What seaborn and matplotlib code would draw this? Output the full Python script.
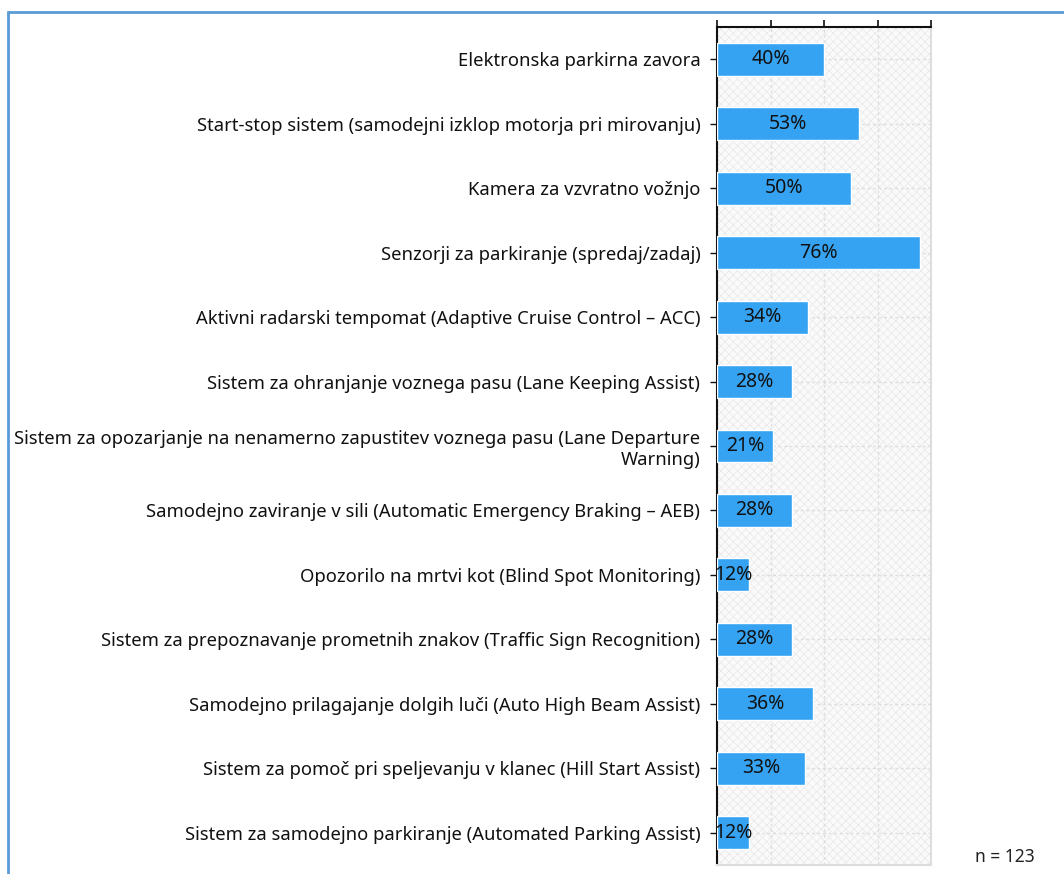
import matplotlib
matplotlib.use("Agg")
import matplotlib.pyplot as plt
import seaborn as sns
import pandas as pd
from matplotlib.patches import Rectangle

categories = [
    "Elektronska parkirna zavora",
    "Start-stop sistem (samodejni izklop motorja pri mirovanju)",
    "Kamera za vzvratno vožnjo",
    "Senzorji za parkiranje (spredaj/zadaj)",
    "Aktivni radarski tempomat (Adaptive Cruise Control – ACC)",
    "Sistem za ohranjanje voznega pasu (Lane Keeping Assist)",
    "Sistem za opozarjanje na nenamerno zapustitev voznega pasu (Lane Departure\nWarning)",
    "Samodejno zaviranje v sili (Automatic Emergency Braking – AEB)",
    "Opozorilo na mrtvi kot (Blind Spot Monitoring)",
    "Sistem za prepoznavanje prometnih znakov (Traffic Sign Recognition)",
    "Samodejno prilagajanje dolgih luči (Auto High Beam Assist)",
    "Sistem za pomoč pri speljevanju v klanec (Hill Start Assist)",
    "Sistem za samodejno parkiranje (Automated Parking Assist)",
]
values = [40, 53, 50, 76, 34, 28, 21, 28, 12, 28, 36, 33, 12]
x_ticks = [0, 20, 40, 60, 80]
n_text = "n = 123"

sns.set_theme(style="white")
plt.rcParams["font.family"] = ["Noto Sans", "DejaVu Sans"]
plt.rcParams["hatch.linewidth"] = 0.5
plt.rcParams["hatch.color"] = "#e8e8e8"

df = pd.DataFrame({"cat": categories, "val": values})

fig = plt.figure(figsize=(10.64, 8.74), dpi=100)
ax = fig.add_axes([717 / 1064, 1 - 865 / 874, (931 - 717) / 1064, (865 - 27) / 874])

# hatched background
ax.set_facecolor("#fafafa")
bg = Rectangle((0, 0), 1, 1, transform=ax.transAxes, facecolor="#fafafa",
               edgecolor="#e8e8e8", hatch="xxxx", linewidth=0, zorder=0)
ax.add_patch(bg)

sns.barplot(data=df, y="cat", x="val", orient="h", color="#35a3f2",
            saturation=1, width=0.51, ax=ax, zorder=3)

for c in ax.containers:
    ax.bar_label(c, labels=[f"{v}%" for v in values], label_type="center",
                 fontsize=14, color="#111111")

ax.set_xlim(0, 80)
ax.set_ylim(len(categories) - 0.5, -0.5)
ax.set_xticks(x_ticks)
ax.xaxis.tick_top()
ax.tick_params(axis="x", top=True, bottom=False, labeltop=False, labelbottom=False,
               direction="out", length=5, width=1.2, color="#111111")
ax.tick_params(axis="y", left=True, length=5, width=1, color="#111111",
               labelsize=13.25, labelcolor="#111111", pad=7)
ax.set_xlabel("")
ax.set_ylabel("")

ax.grid(True, axis="both", linestyle=(0, (2, 2)), color="#dddddd", linewidth=1, zorder=1)
ax.set_axisbelow(True)

for s in ["top", "left"]:
    ax.spines[s].set_visible(True)
    ax.spines[s].set_color("#111111")
    ax.spines[s].set_linewidth(1.5)
for s in ["right", "bottom"]:
    ax.spines[s].set_visible(True)
    ax.spines[s].set_color("#dddddd")
    ax.spines[s].set_linewidth(1.5)

fig.text(975 / 1064, 1 - 857 / 874, n_text, fontsize=12.5, color="#222222",
         ha="left", va="center")

# blue frame
frame = Rectangle((8 / 1064, -0.05), 1.2, 1 - 12 / 874 + 0.05, transform=fig.transFigure,
                  facecolor="none", edgecolor="#5b9bd5", linewidth=2, zorder=10)
fig.patches.append(frame)

fig.savefig("out.png", dpi=100)
